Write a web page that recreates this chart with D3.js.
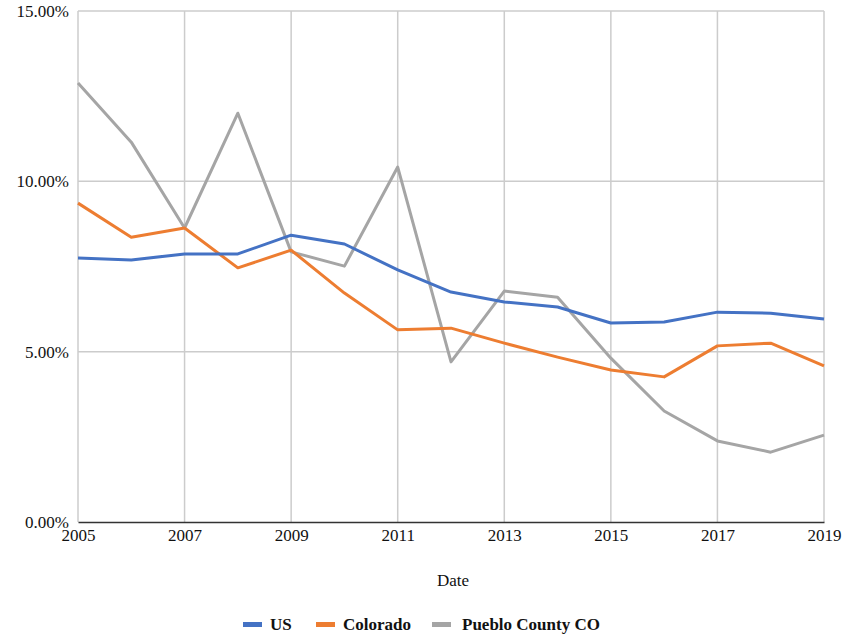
<!DOCTYPE html>
<html>
<head>
<meta charset="utf-8">
<script src="https://cdn.jsdelivr.net/npm/d3@7"></script>
<style>
  body { margin: 0; background: #fff; }
  svg text { font-family: "Liberation Serif", "DejaVu Serif", serif; fill: #111; }
</style>
</head>
<body>
<div id="chart"></div>
<script>
// Data
const years = [2005, 2006, 2007, 2008, 2009, 2010, 2011, 2012, 2013, 2014, 2015, 2016, 2017, 2018, 2019];
const usValues = [7.75, 7.69, 7.87, 7.87, 8.42, 8.16, 7.40, 6.75, 6.46, 6.31, 5.84, 5.87, 6.16, 6.13, 5.96];
const coloradoValues = [9.36, 8.36, 8.63, 7.46, 7.98, 6.72, 5.64, 5.69, 5.25, 4.84, 4.46, 4.26, 5.17, 5.25, 4.58];
const puebloValues = [12.89, 11.15, 8.63, 12.00, 7.93, 7.51, 10.42, 4.70, 6.78, 6.60, 4.81, 3.26, 2.38, 2.05, 2.55];
const xTicks = [2005, 2007, 2009, 2011, 2013, 2015, 2017, 2019];
const yTicks = [0, 5, 10, 15];

const series = [
    { name: "US", values: usValues, color: "#4472c4" },
    { name: "Colorado", values: coloradoValues, color: "#ed7d31" },
    { name: "Pueblo County CO", values: puebloValues, color: "#a5a5a5" }
];

const margin = { top: 11, right: 36, bottom: 113, left: 78 };
const width = 860 - margin.left - margin.right;
const height = 635 - margin.top - margin.bottom;

const svg = d3.select("#chart")
    .append("svg")
    .attr("width", 860)
    .attr("height", 635)
    .append("g")
    .attr("transform", "translate(" + margin.left + "," + margin.top + ")");

const x = d3.scaleLinear().domain([2005, 2019]).range([0, width]);
const y = d3.scaleLinear().domain([0, 15]).range([height, 0]);

// Horizontal gridlines
svg.append("g")
    .selectAll("line")
    .data(yTicks.filter(d => d > 0))
    .enter()
    .append("line")
    .attr("x1", 0)
    .attr("x2", width)
    .attr("y1", d => y(d))
    .attr("y2", d => y(d))
    .attr("stroke", "#cccccc")
    .attr("stroke-width", 1.5);

// Vertical gridlines
svg.append("g")
    .selectAll("line")
    .data(xTicks)
    .enter()
    .append("line")
    .attr("x1", d => x(d))
    .attr("x2", d => x(d))
    .attr("y1", 0)
    .attr("y2", height)
    .attr("stroke", "#cccccc")
    .attr("stroke-width", 1.5);

// Y axis labels
svg.append("g")
    .call(d3.axisLeft(y).tickValues(yTicks).tickSize(0).tickPadding(9).tickFormat(d => d.toFixed(2) + "%"))
    .call(g => g.select(".domain").remove())
    .selectAll("text")
    .style("font-size", "17px");

// X axis
const xAxis = svg.append("g")
    .attr("transform", "translate(0," + height + ")")
    .call(d3.axisBottom(x).tickValues(xTicks).tickSize(0).tickPadding(7).tickFormat(d3.format("d")));
xAxis.select(".domain").attr("stroke", "#333").attr("stroke-width", 1.5);
xAxis.selectAll("text").style("font-size", "17px");

// Lines
const line = d3.line()
    .x((d, i) => x(years[i]))
    .y(d => y(d));

series.slice().reverse().forEach(s => {
    svg.append("path")
        .datum(s.values)
        .attr("fill", "none")
        .attr("stroke", s.color)
        .attr("stroke-width", 3)
        .attr("stroke-linejoin", "round")
        .attr("d", line);
});

// X axis title
svg.append("text")
    .attr("x", width / 2 + 2)
    .attr("y", height + 64)
    .attr("text-anchor", "middle")
    .style("font-size", "17px")
    .text("Date");

// Legend
const legendX = [243 - margin.left, 316 - margin.left, 432 - margin.left];
const legend = svg.append("g")
    .attr("transform", "translate(0," + (height + 102) + ")");

series.forEach((s, i) => {
    const g = legend.append("g").attr("transform", "translate(" + legendX[i] + ",0)");
    g.append("rect")
        .attr("x", 0)
        .attr("y", -2)
        .attr("width", 19)
        .attr("height", 5)
        .attr("fill", s.color);
    g.append("text")
        .attr("x", i === 2 ? 30 : 27)
        .attr("y", 6)
        .style("font-size", "17px")
        .style("font-weight", "bold")
        .text(s.name);
});
</script>
</body>
</html>
